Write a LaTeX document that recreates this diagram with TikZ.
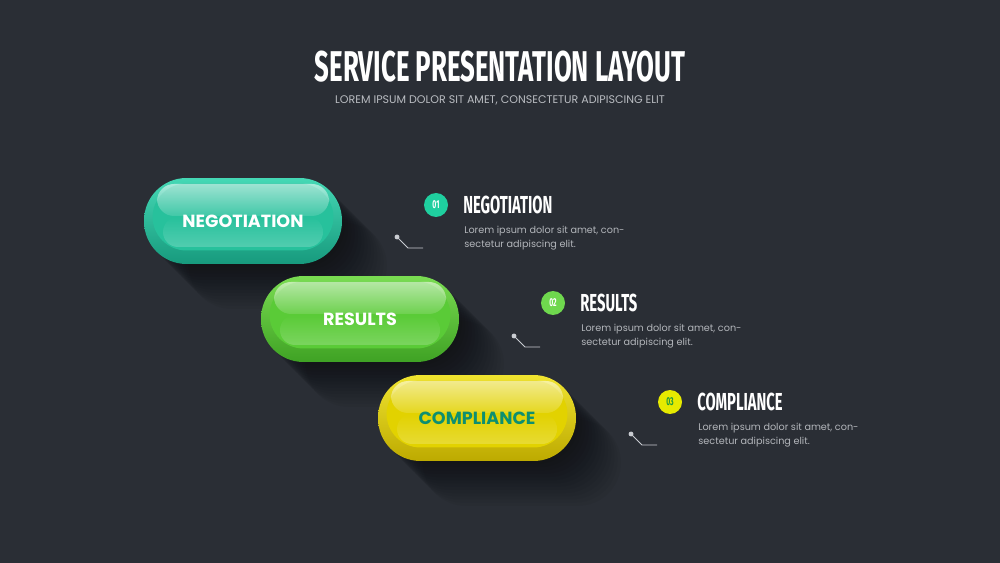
\documentclass[tikz,border=0pt]{standalone}
\usepackage{fontspec}
\setmainfont{Poppins}
\newfontfamily\condfont[FakeStretch=0.6]{Fira Sans}
\usetikzlibrary{shapes.misc,fadings}
\definecolor{bg}{HTML}{2A2E35}
\definecolor{subgray}{HTML}{B9BCC1}
\definecolor{bodygray}{HTML}{B3B6BB}
\definecolor{conngray}{HTML}{C9CCD1}
% teal
\definecolor{tRimT}{HTML}{45D8B5}\definecolor{tRimB}{HTML}{179A7D}
\definecolor{tIn}{HTML}{27C19C}
% green
\definecolor{gRimT}{HTML}{7ADC52}\definecolor{gRimB}{HTML}{3FA224}
\definecolor{gIn}{HTML}{5ACB37}
% yellow
\definecolor{yRimT}{HTML}{F0E430}\definecolor{yRimB}{HTML}{BDAA00}
\definecolor{yIn}{HTML}{E2D200}
\definecolor{compText}{HTML}{0E8F70}
\definecolor{c1}{HTML}{1FCF9F}\definecolor{c2}{HTML}{6FD84E}\definecolor{c3}{HTML}{E6EA00}
\definecolor{c3text}{HTML}{1E9A3C}
\tikzfading[name=glosstop, top color=transparent!45, bottom color=transparent!88]
\tikzfading[name=glossbot, top color=transparent!100, bottom color=transparent!80]
\tikzset{
  pillrim/.style={rounded corners=0.85cm, minimum width=3.96cm, minimum height=1.72cm, inner sep=0pt},
  pillin/.style={rounded corners=0.68cm, minimum width=3.62cm, minimum height=1.34cm, inner sep=0pt},
  pilltext/.style={font=\fontsize{10}{12}\selectfont\bfseries, inner sep=0pt},
  numcirc/.style={circle, minimum size=0.48cm, inner sep=0pt, text=white, font=\condfont\fontsize{6.5}{7}\selectfont\bfseries},
  head/.style={anchor=west, inner sep=0pt, text=white, font=\condfont\fontsize{14}{16}\selectfont\bfseries},
  bodytxt/.style={anchor=north west, inner sep=0pt, align=left, text=bodygray, font=\fontsize{5.5}{8}\selectfont},
  conn/.style={draw=conngray, line width=0.5pt},
  dotc/.style={fill=conngray},
}
\newcommand\drawpill[8]{%
  \foreach \k in {1,...,14}{
    \fill[black, opacity=0.04, rounded corners=0.85cm] (#2-99+3.2*\k,#3-43+3.2*\k) rectangle ++(198,86);
  }
  \node[pillrim, top color=#4, bottom color=#5] (#1) at (#2,#3) {};
  \node[pillin, fill=#6] (#1-in) at (#2,#3-4) {};
  \fill[white, path fading=glosstop, rounded corners=0.34cm] (#2-86,#3-37) rectangle (#2+86,#3-5);
  \fill[white, path fading=glossbot, rounded corners=0.3cm] (#2-80,#3-4) rectangle (#2+80,#3+26);
  \node[pilltext, text=#8] (#1-t) at (#2,#3) {#7};
}
\begin{document}
\begin{tikzpicture}[x=0.02cm,y=-0.02cm]
\fill[bg] (0,0) rectangle (1000,563);
\useasboundingbox (0,0) rectangle (1000,563);

\node[inner sep=0pt, text=white, font=\condfont\fontsize{24.5}{28}\selectfont\bfseries] (title) at (500,67) {SERVICE PRESENTATION LAYOUT};
\node[inner sep=0pt, text=subgray, font=\fontsize{6.3}{8}\selectfont] (sub) at (500,100) {LOREM IPSUM DOLOR SIT AMET, CONSECTETUR ADIPISCING ELIT};

\drawpill{p1}{243}{221}{tRimT}{tRimB}{tIn}{NEGOTIATION}{white}
\drawpill{p2}{360}{319}{gRimT}{gRimB}{gIn}{RESULTS}{white}
\drawpill{p3}{477}{418}{yRimT}{yRimB}{yIn}{COMPLIANCE}{compText}

% item 1
\node[numcirc, fill=c1] (n1) at (436,205) {01};
\node[head] (h1) at (463,205) {NEGOTIATION};
\node[bodytxt] (b1) at (464,226) {Lorem ipsum dolor sit amet, con-\\sectetur adipiscing elit.};
\coordinate (k1a) at (397,237); \coordinate (k1b) at (408,248); \coordinate (k1c) at (423,248);
\draw[conn] (k1a) -- (k1b) -- (k1c);
\fill[dotc] (k1a) circle (1.4pt);

% item 2
\node[numcirc, fill=c2] (n2) at (553,303) {02};
\node[head] (h2) at (580,303) {RESULTS};
\node[bodytxt] (b2) at (581,324) {Lorem ipsum dolor sit amet, con-\\sectetur adipiscing elit.};
\coordinate (k2a) at (514,336); \coordinate (k2b) at (525,347); \coordinate (k2c) at (540,347);
\draw[conn] (k2a) -- (k2b) -- (k2c);
\fill[dotc] (k2a) circle (1.4pt);

% item 3
\node[numcirc, fill=c3, text=c3text] (n3) at (670,402) {03};
\node[head] (h3) at (697,402) {COMPLIANCE};
\node[bodytxt] (b3) at (698,423) {Lorem ipsum dolor sit amet, con-\\sectetur adipiscing elit.};
\coordinate (k3a) at (631,434); \coordinate (k3b) at (642,445); \coordinate (k3c) at (657,445);
\draw[conn] (k3a) -- (k3b) -- (k3c);
\fill[dotc] (k3a) circle (1.4pt);
\end{tikzpicture}
\end{document}
